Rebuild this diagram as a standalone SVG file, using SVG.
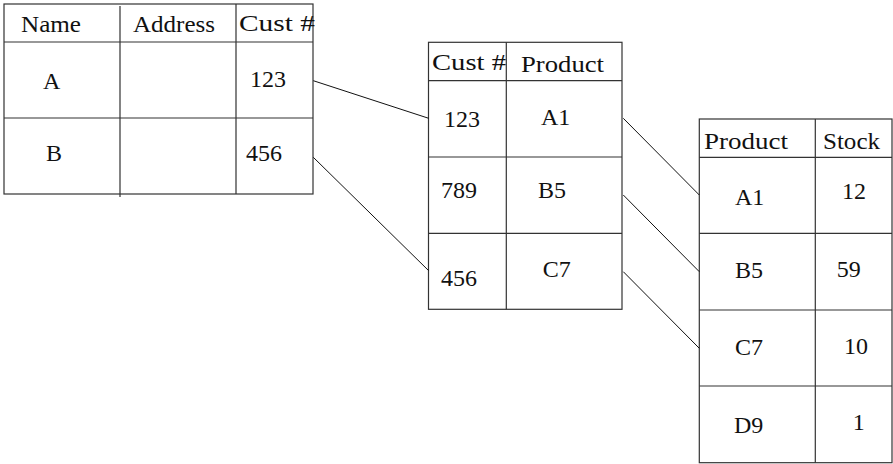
<svg xmlns="http://www.w3.org/2000/svg" width="893" height="464" viewBox="0 0 893 464">
<style>
.b{fill:none;stroke:#333;stroke-width:1.2}
.c{fill:none;stroke:#111;stroke-width:1}
</style>
<rect width="893" height="464" fill="#fff"/>
<g font-family="Liberation Serif" font-size="24" fill="#111">
<g id="customers">
<rect class="b" x="4" y="4" width="309" height="190"/>
<path class="b" d="M4 42H313M4 118H313M120 6V197M236 4V194"/>
<text x="21" y="32" textLength="60" lengthAdjust="spacingAndGlyphs">Name</text>
<text x="133" y="32" textLength="82" lengthAdjust="spacingAndGlyphs">Address</text>
<text x="239" y="30.5" textLength="76" lengthAdjust="spacingAndGlyphs">Cust #</text>
<text x="43" y="89">A</text>
<text x="250" y="87">123</text>
<text x="46" y="161">B</text>
<text x="246" y="161">456</text>
</g>
<g id="orders">
<rect class="b" x="428.5" y="42.3" width="193.5" height="267"/>
<path class="b" d="M428.5 80.7H622M428.5 157H622M428.5 233.3H622M506.3 42.3V309.3"/>
<text x="432" y="70" textLength="74" lengthAdjust="spacingAndGlyphs">Cust #</text>
<text x="521" y="71.5" textLength="83" lengthAdjust="spacingAndGlyphs">Product</text>
<text x="444" y="126.7">123</text>
<text x="541" y="125">A1</text>
<text x="441" y="198">789</text>
<text x="538" y="198">B5</text>
<text x="441" y="286">456</text>
<text x="542.7" y="276.7">C7</text>
</g>
<g id="stock">
<rect class="b" x="699.3" y="119" width="192.7" height="343.7"/>
<path class="b" d="M699.3 157.3H892M699.3 233.3H892M699.3 310H892M699.3 386H892M815.3 119V462.7"/>
<text x="704" y="149" textLength="84" lengthAdjust="spacingAndGlyphs">Product</text>
<text x="823" y="149" textLength="57" lengthAdjust="spacingAndGlyphs">Stock</text>
<text x="735" y="205">A1</text>
<text x="842" y="199">12</text>
<text x="735" y="278">B5</text>
<text x="836.7" y="277">59</text>
<text x="735" y="355">C7</text>
<text x="844" y="354">10</text>
<text x="734" y="433">D9</text>
<text x="852.7" y="430">1</text>
</g>
</g>
<g id="connectors">
<path class="c" d="M313.3 80.7L428.7 118.3M313.3 157.3L428.7 270.7M623.3 118.3L699.3 195M623.3 195L699.3 271.7M623.3 271.7L699.3 348.3"/>
</g>
</svg>
